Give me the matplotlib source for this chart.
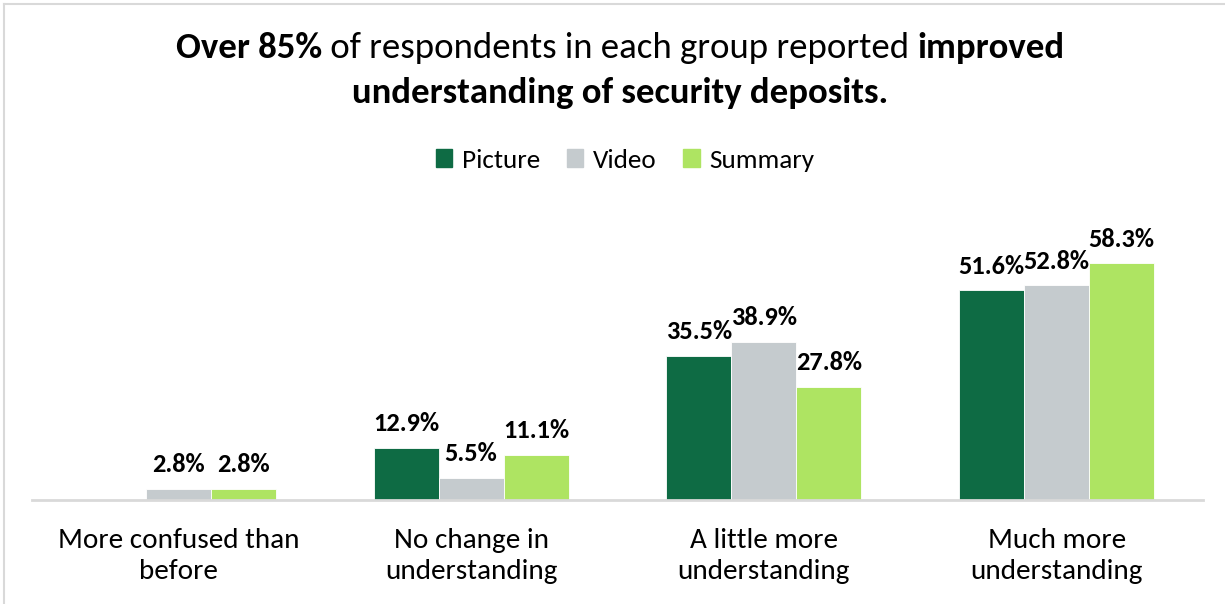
import matplotlib
matplotlib.use("Agg")
import matplotlib.pyplot as plt
import numpy as np
from matplotlib.patches import Rectangle
from matplotlib.lines import Line2D

categories = ["More confused than\nbefore", "No change in\nunderstanding",
              "A little more\nunderstanding", "Much more\nunderstanding"]
series_names = ["Picture", "Video", "Summary"]
picture = [0.0, 12.9, 35.5, 51.6]
video = [2.8, 5.5, 38.9, 52.8]
summary = [2.8, 11.1, 27.8, 58.3]
colors = ["#0E6B44", "#C5CBCE", "#AEE462"]

plt.rcParams['font.family'] = ['Carlito', 'Lato', 'DejaVu Sans']

W, H = 1225, 604
fig = plt.figure(figsize=(W / 100, H / 100), dpi=100)
fig.patch.set_facecolor("white")

# outer chart frame (left and top edges visible)
fig.add_artist(Line2D([3.5 / W, 3.5 / W], [0, 1 - 3.5 / H], transform=fig.transFigure,
                      color="#D9D9D9", lw=1.5))
fig.add_artist(Line2D([3.5 / W, 1], [1 - 3.5 / H, 1 - 3.5 / H], transform=fig.transFigure,
                      color="#D9D9D9", lw=1.5))

ax = fig.add_axes([32 / W, (H - 500) / H, (1203 - 32) / W, 300 / H])
x = np.arange(len(categories))
bw = 0.222
values = [picture, video, summary]
for i, (vals, c) in enumerate(zip(values, colors)):
    pos = x + (i - 1) * bw
    ax.bar(pos, vals, width=bw, color=c, edgecolor="white", linewidth=0.6, label=series_names[i])
    for xp, v in zip(pos, vals):
        if v > 0:
            ax.annotate(f"{v:.1f}%", (xp, v), xytext=(0, 9), textcoords="offset points",
                        ha="center", va="bottom", fontsize=19, fontweight="bold", color="black")

ax.set_xlim(-0.5, len(categories) - 0.5)
ax.set_ylim(0, 73.8)
for s in ["top", "right", "left"]:
    ax.spines[s].set_visible(False)
ax.spines["bottom"].set_color("#D9D9D9")
ax.spines["bottom"].set_linewidth(2)
ax.set_yticks([])
ax.set_xticks(x)
ax.set_xticklabels(categories, fontsize=21, linespacing=1.3)
ax.tick_params(axis="x", length=0, pad=20)

# legend
handles = [Rectangle((0, 0), 1, 1, color=c) for c in colors]
fig.legend(handles, series_names, loc="center", bbox_to_anchor=(625 / W, 1 - 160 / H),
           ncol=3, frameon=False, fontsize=19.5, handlelength=0.6, handleheight=0.6,
           handletextpad=0.35, columnspacing=1.0)

# title with mixed weights
fig.canvas.draw()
renderer = fig.canvas.get_renderer()
title_size = 26.5
line1 = [("Over 85%", "bold"), (" of respondents in each group reported ", "normal"),
         ("improved", "bold")]
y1 = 1 - 48 / H
pieces = [fig.text(0, y1, t, fontsize=title_size, fontweight=w, va="center", ha="left")
          for t, w in line1]
widths = [p.get_window_extent(renderer).width for p in pieces]
total = sum(widths)
xs = 620 - total / 2
for p, w in zip(pieces, widths):
    p.set_x(xs / W)
    xs += w
fig.text(620 / W, 1 - 93 / H, "understanding of security deposits.", fontsize=title_size,
         fontweight="bold", ha="center", va="center")

fig.savefig("out.png", dpi=100)
